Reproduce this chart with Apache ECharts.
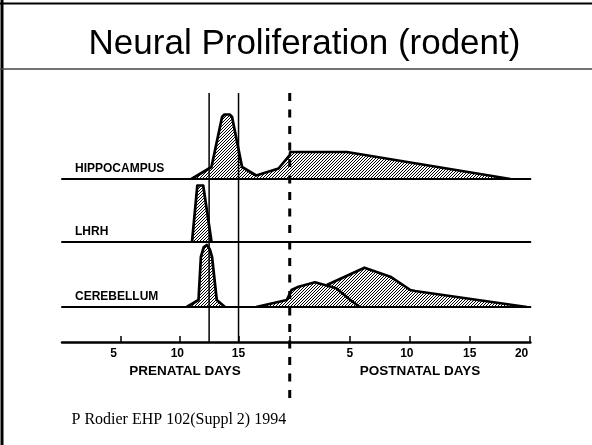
<!DOCTYPE html>
<html>
<head>
<meta charset="utf-8">
<script src="https://cdn.jsdelivr.net/npm/echarts@6/dist/echarts.min.js"></script>
<style>
html,body{margin:0;padding:0;background:#fff}
#chart{width:592px;height:445px}
</style>
</head>
<body>
<div id="chart"></div>
<script>
// x values are "axis days": prenatal day as is, postnatal day p sits at BIRTH + p*POST_K
var BIRTH = 19.35, POST_K = 1.02;
var rowNames = ['HIPPOCAMPUS', 'LHRH', 'CEREBELLUM'];
var prenatalTicks = [5, 10, 15];
var postnatalTicks = [5, 10, 15, 20];
var markerDays = [12.5, 15]; // solid vertical lines

// [day, relative proliferation]
var hippocampus = [[11.0,0],[12.7,12],[13.6,62],[13.8,64.5],[14.25,64.5],[14.45,62],[15.3,12],[16.5,3.5],[18.4,10.5],[19.35,24],[19.4,27],[24.2,27],[38.1,0]];
var lhrh = [[11.05,0],[11.5,56],[12.0,56],[12.7,0]];
var cerebellum1 = [[10.6,0],[11.6,7],[11.8,50],[12.05,60],[12.3,62],[12.55,58],[12.75,50],[13.15,7],[13.85,0]];
var cerebellum2 = [[16.5,0],[19.1,7],[19.5,17],[20.1,20.3],[21.5,24.7],[23.3,18.7],[24.5,7],[25.3,0]];
var cerebellum3 = [[22.5,22],[25.7,39.3],[27.9,30.3],[29.6,17],[30.0,16],[39.5,0]];

function post(p){ return BIRTH + p * POST_K; }

function hatch(){
  var c = document.createElement('canvas');
  c.width = 3; c.height = 3;
  var g = c.getContext('2d');
  g.fillStyle = '#fff'; g.fillRect(0, 0, 3, 3);
  g.strokeStyle = '#000'; g.lineWidth = 1;
  g.beginPath();
  g.moveTo(0, 3); g.lineTo(3, 0);
  g.moveTo(-1, 1); g.lineTo(1, -1);
  g.moveTo(2, 4); g.lineTo(4, 2);
  g.stroke();
  return c;
}
var pattern = {image: hatch(), repeat: 'repeat'};

var XMIN = 0, XMAX = 39.8;
var LEFT = 62, WIDTH = 468.4;
var grids = [
  {left: LEFT, width: WIDTH, top: 95, height: 84},
  {left: LEFT, width: WIDTH, top: 179, height: 62.5},
  {left: LEFT, width: WIDTH, top: 241.5, height: 65.5},
  {left: LEFT, width: WIDTH, top: 307, height: 35},
  {left: LEFT, width: WIDTH, top: 93, height: 312}
];

var ticks = prenatalTicks.concat(postnatalTicks.map(post));
var tickAll = prenatalTicks.concat([BIRTH], postnatalTicks.map(post));
var tickTexts = prenatalTicks.map(String).concat(postnatalTicks.map(String));
var nudge = [-0.62, -0.2, 0, 0, -0.25, 0, -0.7]; // label shifts, axis days
var labelPos = ticks.map(function(t, i){ return +(t + nudge[i]).toFixed(3); });

var font = '"Liberation Sans", Arial, sans-serif';

function baseX(i, show){
  return {
    type: 'value', gridIndex: i, min: XMIN, max: XMAX, z: 5,
    axisLine: {show: show, lineStyle: {color: '#000', width: 2}},
    axisTick: {show: false}, axisLabel: {show: false}, splitLine: {show: false}
  };
}
var xAxes = [baseX(0, true), baseX(1, true), baseX(2, true), baseX(3, true), baseX(4, false)];
xAxes[3].axisLine.lineStyle.width = 2.5;
xAxes[3].axisTick = {show: true, inside: true, length: 6, customValues: tickAll, lineStyle: {color: '#000', width: 1.5}};
xAxes[3].axisLabel = {
  show: true, customValues: labelPos, margin: 6,
  color: '#000', fontFamily: font, fontWeight: 'bold', fontSize: 12,
  formatter: function(v){
    for (var i = 0; i < labelPos.length; i++) if (Math.abs(labelPos[i] - v) < 1e-6) return tickTexts[i];
    return '';
  }
};

var yAxes = [
  {gridIndex: 0, min: 0, max: 84, show: false},
  {gridIndex: 1, min: 0, max: 62.5, show: false},
  {gridIndex: 2, min: 0, max: 65.5, show: false},
  {gridIndex: 3, min: 0, max: 1, show: false},
  {gridIndex: 4, min: 0, max: 312, inverse: true, show: false}
];

function shape(data, idx, z){
  return {
    type: 'line', xAxisIndex: idx, yAxisIndex: idx, data: data, z: z,
    symbol: 'none', silent: true,
    lineStyle: {color: '#000', width: 2.7, join: 'round'},
    areaStyle: {color: pattern, opacity: 1}
  };
}
function vline(x, y1, y2, w, type){
  return {
    type: 'line', xAxisIndex: 4, yAxisIndex: 4, data: [[x, y1], [x, y2]], z: 10,
    symbol: 'none', silent: true,
    lineStyle: {color: '#000', width: w, type: type}
  };
}

var series = [
  shape(hippocampus, 0, 2),
  shape(lhrh, 1, 2),
  shape(cerebellum1, 2, 2),
  shape(cerebellum3, 2, 2),
  shape(cerebellum2, 2, 3)
];
markerDays.forEach(function(d){ series.push(vline(d, 0, 249, 1.5, 'solid')); });
series.push(vline(BIRTH, 0, 312, 3, [8, 8.5]));

function label(text, x, y, size, weight, align, family){
  return {type: 'text', x: x, y: y, silent: true,
    style: {text: text, fill: '#000', font: (weight || 'normal') + ' ' + size + 'px ' + (family || font),
      textAlign: align || 'left', textVerticalAlign: 'middle'}};
}
var rowY = [169, 232, 296.5];
var graphics = [
  {type: 'line', shape: {x1: 2, y1: 0, x2: 2, y2: 445}, style: {stroke: '#000', lineWidth: 3}},
  {type: 'line', shape: {x1: 0, y1: 3.5, x2: 592, y2: 3.5}, style: {stroke: '#000', lineWidth: 2}},
  {type: 'line', shape: {x1: 0, y1: 69, x2: 592, y2: 69}, style: {stroke: '#444', lineWidth: 1.5}},
  label('Neural Proliferation (rodent)', 304.5, 44.5, 35, 'normal', 'center'),
  label('PRENATAL DAYS', 185, 371, 13.5, 'bold', 'center'),
  label('POSTNATAL DAYS', 420, 371, 13.5, 'bold', 'center'),
  label('P Rodier EHP 102(Suppl 2) 1994', 71.5, 420, 16, 'normal', 'left', '"Liberation Serif", "Times New Roman", serif')
];
rowNames.forEach(function(n, i){ graphics.push(label(n, 75, rowY[i], 12, 'bold')); });

var chart = echarts.init(document.getElementById('chart'));
chart.setOption({
  animation: false,
  backgroundColor: '#fff',
  grid: grids,
  xAxis: xAxes,
  yAxis: yAxes,
  series: series,
  graphic: graphics
});
</script>
</body>
</html>
